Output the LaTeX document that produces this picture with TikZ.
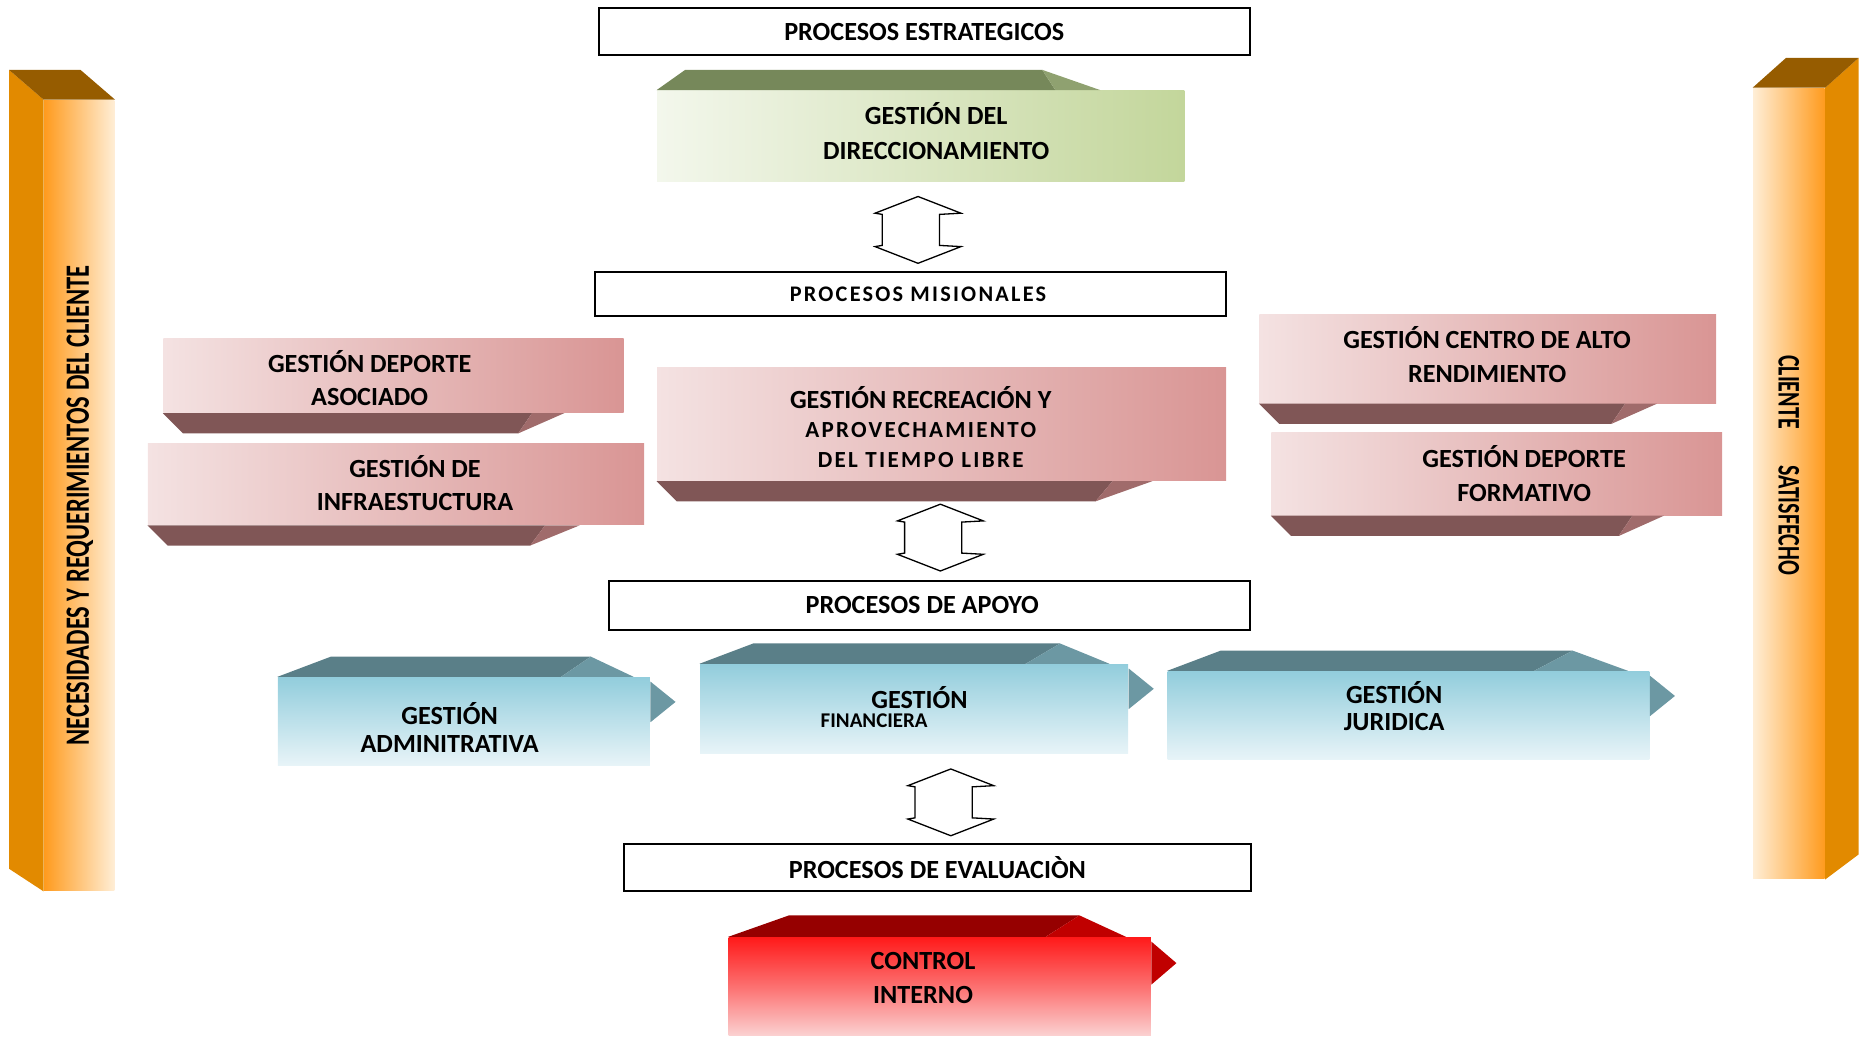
\documentclass[tikz,border=0pt]{standalone}
\usepackage{fontspec}
\setmainfont{Carlito}
\newfontfamily\spacedfont[LetterSpace=10]{Carlito}
\usepackage{graphicx}
\usepackage{tikz}
\usetikzlibrary{positioning,fit,calc}
\usepackage{xcolor}
\definecolor{gdgreen}{RGB}{195,214,155}
\definecolor{gdgreenl}{RGB}{243,247,236}
\definecolor{gdgreentop}{RGB}{118,136,90}
\definecolor{gdgreentri}{RGB}{143,161,112}
\definecolor{gdpink}{RGB}{217,149,148}
\definecolor{gdpinkl}{RGB}{244,226,226}
\definecolor{gdpinkbase}{RGB}{128,86,86}
\definecolor{gdpinktri}{RGB}{160,107,107}
\definecolor{gdblue}{RGB}{146,205,220}
\definecolor{gdbluel}{RGB}{232,244,248}
\definecolor{gdbluetop}{RGB}{90,127,136}
\definecolor{gdbluetri}{RGB}{108,152,163}
\definecolor{gdred}{RGB}{255,26,26}
\definecolor{gdredm}{RGB}{252,112,112}
\definecolor{gdredl}{RGB}{251,208,208}
\definecolor{gdredtop}{RGB}{150,0,0}
\definecolor{gdredtri}{RGB}{192,0,0}
\definecolor{gdorange}{RGB}{255,155,30}
\definecolor{gdorangel}{RGB}{255,238,214}
\definecolor{gdorangeside}{RGB}{226,138,0}
\definecolor{gdorangetop}{RGB}{150,92,0}
\tikzstyle{headbox} = [rectangle, draw=black, line width=0.8pt, fill=white, inner sep=0pt]
\tikzstyle{headtext} = [inner sep=0pt, font=\bfseries\fontsize{10}{12}\selectfont]
\tikzstyle{greenbox} = [rectangle, inner sep=0pt, left color=gdgreenl, right color=gdgreen]
\tikzstyle{pinkbox} = [rectangle, inner sep=0pt, left color=gdpinkl, right color=gdpink]
\tikzstyle{bluebox} = [rectangle, inner sep=0pt, top color=gdblue, bottom color=gdbluel]
\tikzstyle{redbox} = [rectangle, inner sep=0pt, top color=gdred, bottom color=gdredl, middle color=gdredm]
\tikzstyle{colbox} = [rectangle, inner sep=0pt]
\tikzstyle{boxtext} = [align=center, inner sep=0pt, font=\bfseries\fontsize{10}{12.9}\selectfont]
\tikzstyle{coltext} = [inner sep=0pt, font=\bfseries\fontsize{13}{15}\selectfont]
\tikzset{dblarrow/.pic={
  \draw[draw=black, fill=white, line width=0.5pt] (0,-28) -- (36,-14) -- (18,-13) -- (18,13) -- (36,14) -- (0,28) -- (-36,14) -- (-30,13) -- (-30,-13) -- (-36,-14) -- cycle;
}}

\begin{document}
\begin{tikzpicture}[x=0.16mm, y=-0.16mm]
\useasboundingbox (0,0) rectangle (1568,870);

% Side columns
\node[colbox, left color=gdorange, right color=gdorangel, fit={(37,84) (96,747)}] (need) {};
\fill[gdorangeside] (need.north west) -- ++(-29,-25) -- ($(need.south west)+(-29,-19)$) -- (need.south west) -- cycle;
\fill[gdorangetop] (need.north west) -- ++(-29,-25) -- ($(need.north east)+(-29,-25)$) -- (need.north east) -- cycle;
\node[coltext, rotate=90] (need-t) at (67,424) {\scalebox{0.72}[1]{NECESIDADES Y REQUERIMIENTOS DEL CLIENTE}};

\node[colbox, left color=gdorangel, right color=gdorange, fit={(1470,74) (1530,737)}] (sat) {};
\fill[gdorangeside] (sat.north east) -- ++(28,-25) -- ($(sat.south east)+(28,-21)$) -- (sat.south east) -- cycle;
\fill[gdorangetop] (sat.north west) -- ++(28,-25) -- ($(sat.north east)+(28,-25)$) -- (sat.north east) -- cycle;
\node[coltext, rotate=-90, font=\bfseries\fontsize{12}{14}\selectfont] (sat-t) at (1500,390) {\scalebox{0.7}[1]{CLIENTE\hspace{7mm}SATISFECHO}};

% Headers
\node[headbox, fit={(502,7) (1048,46)}, label={[headtext]center:PROCESOS ESTRATEGICOS}] (est) {};
\node[headbox, fit={(499,228) (1028,265)}, label={[headtext, xshift=1mm, font=\spacedfont\bfseries\fontsize{8.5}{10}\selectfont]center:PROCESOS MISIONALES}] (mis) {};
\node[headbox, fit={(511,487) (1048,528)}, label={[headtext, xshift=-1mm]center:PROCESOS DE APOYO}] (apo) {};
\node[headbox, fit={(523,708) (1049,747)}, label={[headtext]center:PROCESOS DE EVALUACIÒN}] (eva) {};

% Estrategico
\node[greenbox, fit={(551,76) (993,152)}] (dir) {};
\fill[gdgreentop] (dir.north west) -- ++(24,-17) -- ($(dir.north west)!0.73!(dir.north east)+(0,-17)$) -- ($(dir.north west)!0.755!(dir.north east)$) -- cycle;
\fill[gdgreentri] ($(dir.north west)!0.73!(dir.north east)+(0,-17)$) -- ($(dir.north west)!0.84!(dir.north east)$) -- ($(dir.north west)!0.755!(dir.north east)$) -- cycle;
\node[boxtext, font=\bfseries\fontsize{10}{13.2}\selectfont] (dir-t) at (785,110) {GESTIÓN DEL\\DIRECCIONAMIENTO};

% Misionales
\node[pinkbox, fit={(137,284) (523,346)}] (aso) {};
\node[pinkbox, fit={(124,372) (540,440)}] (inf) {};
\node[pinkbox, fit={(551,308) (1028,403)}] (rec) {};
\node[pinkbox, fit={(1056,264) (1439,338)}] (cen) {};
\node[pinkbox, fit={(1066,363) (1444,432)}] (for) {};
\foreach \bx in {aso,inf,rec,cen,for} {
  \fill[gdpinkbase] (\bx.south west) -- ($(\bx.south west)!0.80!(\bx.south east)$) -- ($(\bx.south west)!0.77!(\bx.south east)+(0,17)$) -- ($(\bx.south west)+(17,17)$) -- cycle;
  \fill[gdpinktri] ($(\bx.south west)!0.80!(\bx.south east)$) -- ($(\bx.south west)!0.87!(\bx.south east)$) -- ($(\bx.south west)!0.77!(\bx.south east)+(0,17)$) -- cycle;
}
\node[boxtext] (aso-t) at (310,317) {GESTIÓN DEPORTE\\ASOCIADO};
\node[boxtext] (inf-t) at (348,405) {GESTIÓN DE\\INFRAESTUCTURA};
\node[boxtext, font=\bfseries\fontsize{10}{11.4}\selectfont] (rec-t) at (772,358) {GESTIÓN RECREACIÓN Y\\{\spacedfont\fontsize{8.8}{11.4}\selectfont APROVECHAMIENTO}\\{\spacedfont\fontsize{8.8}{11.4}\selectfont DEL TIEMPO LIBRE}};
\node[boxtext] (cen-t) at (1247,297) {GESTIÓN CENTRO DE ALTO\\RENDIMIENTO};
\node[boxtext] (for-t) at (1278,397) {GESTIÓN DEPORTE\\FORMATIVO};

% Apoyo
\node[bluebox, fit={(233,568) (545,642)}] (adm) {};
\node[bluebox, fit={(587,557) (946,632)}] (fin) {};
\node[bluebox, fit={(979,563) (1383,637)}] (jur) {};
\foreach \bx in {adm,fin,jur} {
  \fill[gdbluetop] (\bx.north west) -- ++(45,-17) -- ($(\bx.north west)!0.84!(\bx.north east)+(0,-17)$) -- ($(\bx.north west)!0.76!(\bx.north east)$) -- cycle;
  \fill[gdbluetri] ($(\bx.north west)!0.84!(\bx.north east)+(0,-17)$) -- ($(\bx.north west)!0.955!(\bx.north east)$) -- ($(\bx.north west)!0.76!(\bx.north east)$) -- cycle;
  \fill[gdbluetri] ($(\bx.north east)+(0,4)$) -- ++(21,17) -- ($(\bx.north east)+(0,38)$) -- cycle;
}
\node[boxtext, font=\bfseries\fontsize{10}{10.5}\selectfont] (adm-t) at (377,610) {GESTIÓN\\ADMINITRATIVA};
\node[boxtext] (fin-t) at (771,585) {GESTIÓN};
\node[boxtext, font=\bfseries\fontsize{8}{9}\selectfont] (fin-t2) at (733,604) {FINANCIERA};
\node[boxtext, font=\bfseries\fontsize{10}{10}\selectfont] (jur-t) at (1169,592) {GESTIÓN\\JURIDICA};

% Evaluacion
\node[redbox, fit={(611,786) (965,868)}] (ctl) {};
\fill[gdredtop] (ctl.north west) -- ++(51,-18) -- ($(ctl.north west)!0.83!(ctl.north east)+(0,-18)$) -- ($(ctl.north west)!0.75!(ctl.north east)$) -- cycle;
\fill[gdredtri] ($(ctl.north west)!0.83!(ctl.north east)+(0,-18)$) -- ($(ctl.north west)!0.94!(ctl.north east)$) -- ($(ctl.north west)!0.75!(ctl.north east)$) -- cycle;
\fill[gdredtri] ($(ctl.north east)+(0,4)$) -- ++(21,18) -- ($(ctl.north east)+(0,40)$) -- cycle;
\node[boxtext] (ctl-t) at (774,820) {CONTROL\\INTERNO};

% Arrows between levels
\pic at ($(dir.south)!0.5!(mis.north)+(2,3)$) {dblarrow};
\pic at ($(rec.south)!0.5!(apo.north)+(4,6)$) {dblarrow};
\pic at ($(fin.south)!0.5!(eva.north)+(21,3)$) {dblarrow};
\end{tikzpicture}
\end{document}
